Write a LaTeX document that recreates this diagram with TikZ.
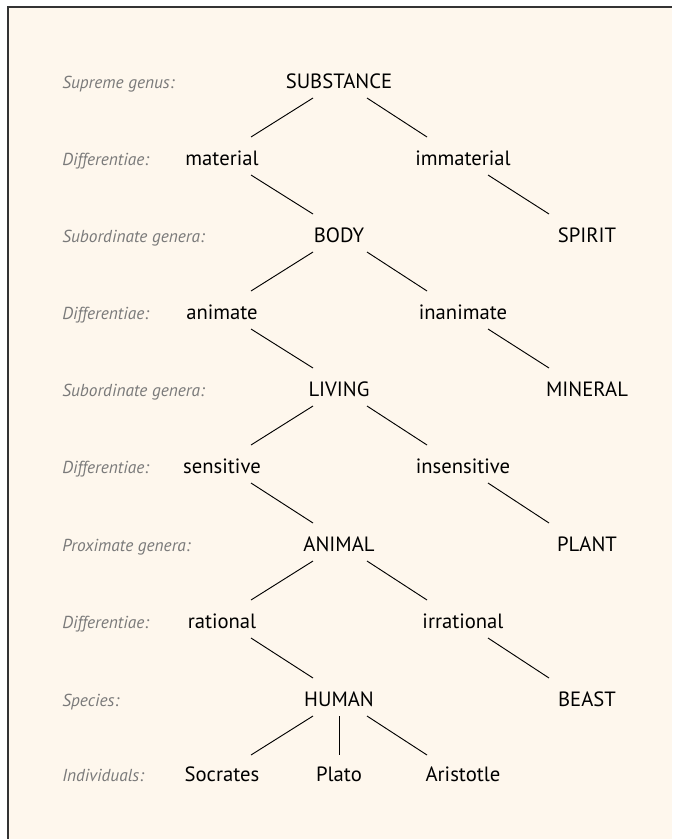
\documentclass[tikz,border=0pt]{standalone}
\usepackage{fontspec}
\setmainfont{PT Sans}
\usetikzlibrary{calc}
\definecolor{paper}{RGB}{254,247,237}
\definecolor{labelgray}{RGB}{122,122,122}

\begin{document}
\begin{tikzpicture}[
  x=0.75pt, y=-0.75pt,
  term/.style={anchor=base, inner sep=0pt, font=\fontsize{15.5}{18}\selectfont},
  level/.style={anchor=base west, inner sep=0pt, text=labelgray, font=\fontsize{13}{15}\selectfont\itshape},
  edge/.style={line width=0.7pt}
]
\useasboundingbox (0,0) rectangle (672,839);
\fill[paper] (8,7) rectangle (672,839);
\draw[line width=1.1pt, black!80] (8,839) -- (8,7) -- (672,7);

% row labels
\node[level] (l0) at (62,88) {Supreme genus:};
\node[level] (l1) at (62,165) {Differentiae:};
\node[level] (l2) at (62,242) {Subordinate genera:};
\node[level] (l3) at (62,319) {Differentiae:};
\node[level] (l4) at (62,396) {Subordinate genera:};
\node[level] (l5) at (62,473) {Differentiae:};
\node[level] (l6) at (62,551) {Proximate genera:};
\node[level] (l7) at (62,628) {Differentiae:};
\node[level] (l8) at (62,706) {Species:};
\node[level] (l9) at (62,781) {Individuals:};

% tree
\node[term] (sub) at (339,88) {SUBSTANCE};
\node[term] (mat) at (222,165) {material};
\node[term] (imm) at (463,165) {immaterial};
\node[term] (body) at (339,242) {BODY};
\node[term] (spirit) at (587,242) {SPIRIT};
\node[term] (anim) at (222,319) {animate};
\node[term] (inan) at (463,319) {inanimate};
\node[term] (living) at (339,396) {LIVING};
\node[term] (mineral) at (587,396) {MINERAL};
\node[term] (sens) at (222,473) {sensitive};
\node[term] (insens) at (463,473) {insensitive};
\node[term] (animal) at (339,551) {ANIMAL};
\node[term] (plant) at (587,551) {PLANT};
\node[term] (rat) at (222,628) {rational};
\node[term] (irrat) at (463,628) {irrational};
\node[term] (human) at (339,706) {HUMAN};
\node[term] (beast) at (587,706) {BEAST};
\node[term] (socr) at (222,781) {Socrates};
\node[term] (plato) at (339,781) {Plato};
\node[term] (arist) at (463,781) {Aristotle};

\draw[edge] ($(sub.base)+(-26,10)$) -- ($(mat.base)+(29,-28)$);
\draw[edge] ($(sub.base)+(28,10)$) -- ($(imm.base)+(-36,-28)$);
\draw[edge] ($(mat.base)+(29,10)$) -- ($(body.base)+(-26,-28)$);
\draw[edge] ($(imm.base)+(25,10)$) -- ($(spirit.base)+(-38,-28)$);

\draw[edge] ($(body.base)+(-26,10)$) -- ($(anim.base)+(29,-28)$);
\draw[edge] ($(body.base)+(28,10)$) -- ($(inan.base)+(-36,-28)$);
\draw[edge] ($(anim.base)+(29,10)$) -- ($(living.base)+(-26,-28)$);
\draw[edge] ($(inan.base)+(25,10)$) -- ($(mineral.base)+(-38,-28)$);

\draw[edge] ($(living.base)+(-26,10)$) -- ($(sens.base)+(29,-28)$);
\draw[edge] ($(living.base)+(28,10)$) -- ($(insens.base)+(-36,-28)$);
\draw[edge] ($(sens.base)+(29,10)$) -- ($(animal.base)+(-26,-28)$);
\draw[edge] ($(insens.base)+(25,10)$) -- ($(plant.base)+(-38,-28)$);

\draw[edge] ($(animal.base)+(-26,10)$) -- ($(rat.base)+(29,-28)$);
\draw[edge] ($(animal.base)+(28,10)$) -- ($(irrat.base)+(-36,-28)$);
\draw[edge] ($(rat.base)+(29,10)$) -- ($(human.base)+(-26,-28)$);
\draw[edge] ($(irrat.base)+(25,10)$) -- ($(beast.base)+(-38,-28)$);

\draw[edge] ($(human.base)+(-26,10)$) -- ($(socr.base)+(29,-26)$);
\draw[edge] ($(human.base)+(0,10)$) -- ($(plato.base)+(0,-26)$);
\draw[edge] ($(human.base)+(28,10)$) -- ($(arist.base)+(-36,-26)$);
\end{tikzpicture}
\end{document}
